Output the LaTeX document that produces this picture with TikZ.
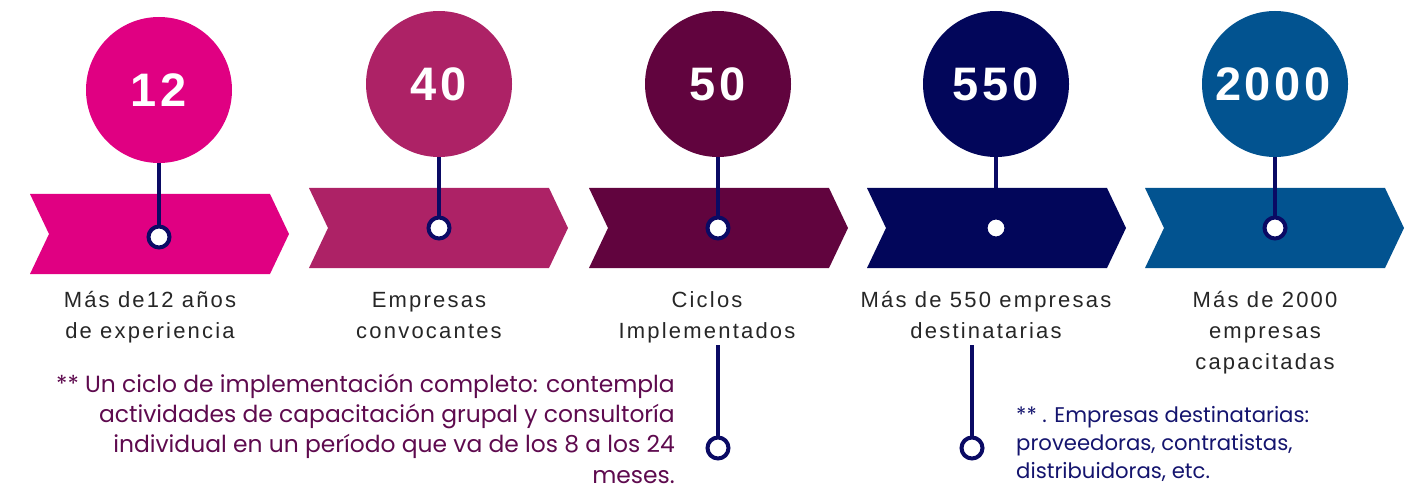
\documentclass[tikz,border=0pt]{standalone}
\usepackage{fontspec}
\setmainfont{Liberation Sans}
\newfontfamily\numfont[LetterSpace=8]{Liberation Sans}
\newfontfamily\labfont[LetterSpace=10]{Liberation Sans}
\newfontfamily\notefont{Poppins}
\definecolor{cA}{RGB}{224,0,130}
\definecolor{cB}{RGB}{173,34,102}
\definecolor{cC}{RGB}{97,4,62}
\definecolor{cD}{RGB}{2,6,90}
\definecolor{cE}{RGB}{2,83,144}
\definecolor{stickc}{RGB}{10,10,100}
\definecolor{labc}{RGB}{38,38,38}
\definecolor{notea}{RGB}{94,10,78}
\definecolor{noteb}{RGB}{20,20,110}
\tikzset{
  bigcirc/.style={circle, minimum size=146pt, inner sep=0pt, text=white, font=\numfont\bfseries\fontsize{47}{47}\selectfont},
  ringdot/.style={circle, minimum size=21pt, inner sep=0pt, fill=white, draw=stickc, line width=4pt},
  stickline/.style={draw=stickc, line width=4pt},
  lab/.style={anchor=base, inner sep=0pt, text=labc, font=\labfont\fontsize{22}{31}\selectfont},
}
\newcommand{\chev}[4]{% color, left, top, bottom
  \fill[#1] (#2,#3) -- ({#2+240},#3) -- ({#2+259},{(#3+#4)/2}) -- ({#2+240},#4) -- (#2,#4) -- ({#2+19},{(#3+#4)/2}) -- cycle;}
\begin{document}
\begin{tikzpicture}[x=1pt,y=-1pt]
\useasboundingbox (0,0) rectangle (1416,489);
% chevrons
\chev{cA}{30}{194}{274}
\chev{cB}{309}{188}{268}
\chev{cC}{589}{188}{268}
\chev{cD}{867}{188}{268}
\chev{cE}{1145}{188}{268}
% circles
\node[bigcirc, fill=cA] (n1) at (159,90) {\hspace*{-0.5pt}12};
\node[bigcirc, fill=cB] (n2) at (439,84) {\hspace*{-0.5pt}40};
\node[bigcirc, fill=cC] (n3) at (718,84) {\hspace*{-0.5pt}50};
\node[bigcirc, fill=cD] (n4) at (996,84) {\hspace*{-0.5pt}550};
\node[bigcirc, fill=cE] (n5) at (1275,84) {\hspace*{-4pt}2000};
% dot positions
\coordinate (p1) at (159,237);
\coordinate (p2) at (439,228);
\coordinate (p3) at (718,228);
\coordinate (p4) at (996,228);
\coordinate (p5) at (1275,228);
\draw[stickline] (n1.south) -- (p1);
\draw[stickline] (n2.south) -- (p2);
\draw[stickline] (n3.south) -- (p3);
\draw[stickline] (n4.south) -- (n4.south |- 0,188);
\draw[stickline] (n5.south) -- (p5);
\node[ringdot] (d1) at (p1) {};
\node[ringdot] (d2) at (p2) {};
\node[ringdot] (d3) at (p3) {};
\node[ringdot, draw=cD] (d4) at (p4) {};
\node[ringdot] (d5) at (p5) {};
% labels
\node[lab] (l1) at (150,307) {\begin{tabular}[t]{@{}c@{}}Más de12 años\\de experiencia\end{tabular}};
\node[lab] (l2) at (429,307) {\begin{tabular}[t]{@{}c@{}}Empresas\\convocantes\end{tabular}};
\node[lab] (l3) at (707,307) {\begin{tabular}[t]{@{}c@{}}Ciclos\\Implementados\end{tabular}};
\node[lab] (l4) at (986,307) {\begin{tabular}[t]{@{}c@{}}Más de 550 empresas\\destinatarias\end{tabular}};
\node[lab] (l5) at (1265,307) {\begin{tabular}[t]{@{}c@{}}Más de 2000\\empresas\\capacitadas\end{tabular}};
% lower pins
\coordinate (t3) at (718,345);
\coordinate (t4) at (972,345);
\node[ringdot, fill=white] (r3) at (718,448) {};
\node[ringdot, fill=white] (r4) at (972,448) {};
\draw[stickline] (t3) -- (r3.north);
\draw[stickline] (t4) -- (r4.north);
% notes
\node[anchor=base east, inner sep=0pt, text=notea, font=\notefont\fontsize{23.4}{30.4}\selectfont] (na) at (675,392)
 {\begin{tabular}[t]{@{}r@{}}** Un ciclo de implementación completo: contempla\\actividades de capacitación grupal y consultoría\\individual en un período que va de los 8 a los 24\\meses.\end{tabular}};
\node[anchor=base west, inner sep=0pt, text=noteb, font=\notefont\fontsize{21.2}{28}\selectfont] (nb) at (1016,422)
 {\begin{tabular}[t]{@{}l@{}}** . Empresas destinatarias:\\proveedoras, contratistas,\\distribuidoras, etc.\end{tabular}};
\end{tikzpicture}
\end{document}
